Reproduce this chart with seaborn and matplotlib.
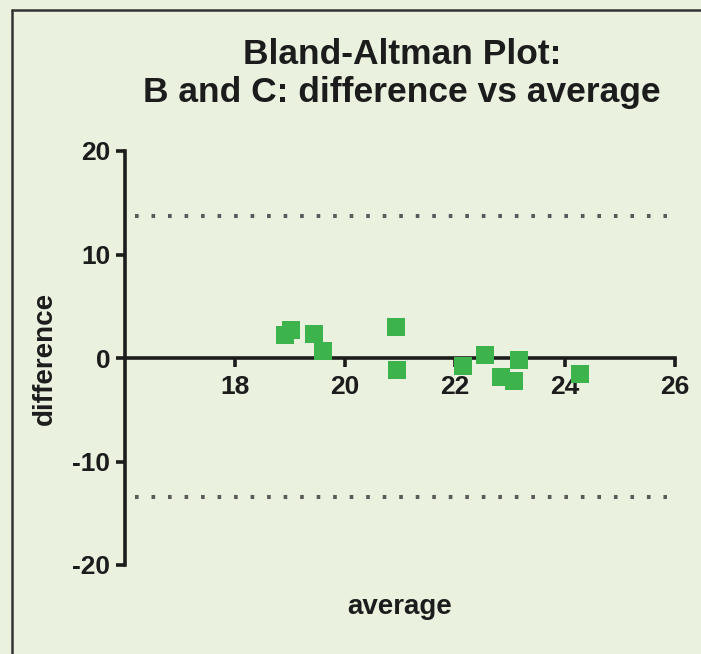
import matplotlib
matplotlib.use("Agg")
import matplotlib.pyplot as plt
from matplotlib.lines import Line2D
import seaborn as sns
import pandas as pd

# data
average = [18.91, 19.02, 19.44, 19.60, 20.93, 20.95, 22.15, 22.55, 22.84, 23.07, 23.16, 24.27]
difference = [2.2, 2.7, 2.3, 0.7, 3.0, -1.15, -0.8, 0.3, -1.85, -2.2, -0.2, -1.55]
limits_of_agreement = [13.7, -13.4]
x_ticks = [18, 20, 22, 24, 26]
y_ticks = [-20, -10, 0, 10, 20]
title_lines = ["Bland-Altman Plot:", "B and C: difference vs average"]

BG = "#eaf2df"
GREEN = "#3cb44b"
INK = "#1c1c1c"

sns.set_theme(style="ticks")
plt.rcParams["font.family"] = ["Liberation Sans", "DejaVu Sans"]

fig = plt.figure(figsize=(7.01, 6.54), dpi=100, facecolor=BG)
ax = fig.add_axes([125 / 701, 1 - 565 / 654, 550 / 701, 414 / 654])
ax.set_facecolor(BG)

df = pd.DataFrame({"average": average, "difference": difference})

for v in limits_of_agreement:
    ax.axhline(v, xmin=0.018, xmax=0.985, color="#5a5a5a", lw=2.9,
               linestyle=(0, (0.9, 3.2)), zorder=1)

sns.scatterplot(data=df, x="average", y="difference", marker="s", s=175,
                color=GREEN, edgecolor="none", linewidth=0, ax=ax, zorder=3,
                legend=False)

ax.set_xlim(16, 26)
ax.set_ylim(-20, 20)
ax.set_xticks(x_ticks)
ax.set_yticks(y_ticks)
ax.set_xticklabels([str(t) for t in x_ticks])
ax.set_yticklabels([str(t) for t in y_ticks])

for s in ["top", "right"]:
    ax.spines[s].set_visible(False)
ax.spines["bottom"].set_position(("data", 0))
ax.spines["bottom"].set_zorder(2)
for s in ["left", "bottom"]:
    ax.spines[s].set_linewidth(2.6)
    ax.spines[s].set_color(INK)
    ax.spines[s].set_capstyle("projecting")

ax.tick_params(axis="both", direction="out", length=6.5, width=2.6, color=INK,
               labelsize=19, labelcolor=INK)
ax.tick_params(axis="x", pad=6)
ax.tick_params(axis="y", pad=4)
for lab in ax.get_xticklabels() + ax.get_yticklabels():
    lab.set_fontweight("bold")

ax.set_xlabel("average", fontsize=20, fontweight="bold", color=INK)
ax.set_ylabel("difference", fontsize=20, fontweight="bold", color=INK)
ax.xaxis.set_label_coords(0.5, -0.07)
ax.yaxis.set_label_coords(-0.122, 0.5)

ax.set_title("\n".join(title_lines), fontsize=25.5, fontweight="bold", color=INK,
             x=0.504, y=(565 - 102) / 414, pad=0, linespacing=1.18)

# partial frame (left and top) as in the reference
fig.add_artist(Line2D([12 / 701, 12 / 701], [0, 1 - 10 / 654], transform=fig.transFigure,
                      color="#333333", lw=1.8))
fig.add_artist(Line2D([12 / 701, 1], [1 - 10 / 654, 1 - 10 / 654], transform=fig.transFigure,
                      color="#333333", lw=1.8))

fig.savefig("out.png", dpi=100, facecolor=BG)
